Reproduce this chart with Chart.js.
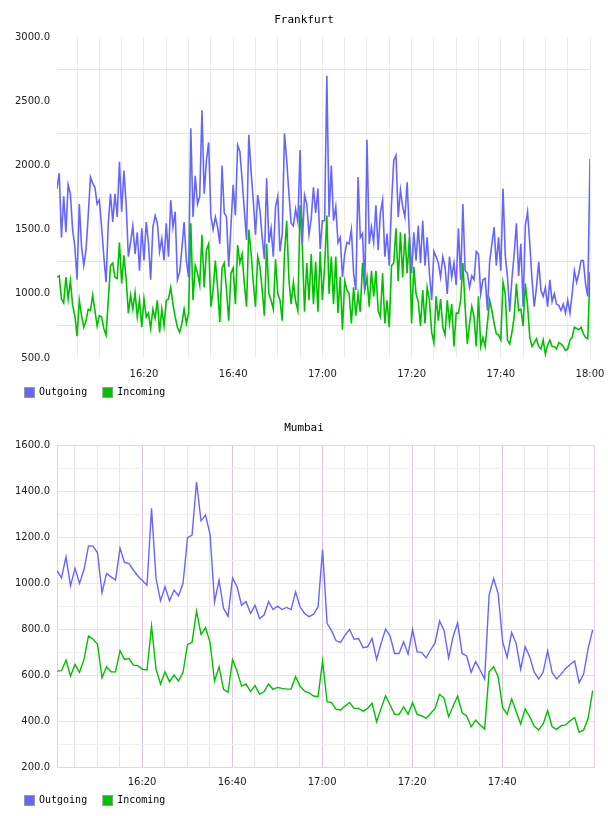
<!DOCTYPE html>
<html><head><meta charset="utf-8">
<script src="https://cdn.jsdelivr.net/npm/chart.js@4.4.0/dist/chart.umd.min.js"></script>
<style>
html,body{margin:0;padding:0;background:#fff;}
#wrap{position:relative;width:608px;height:816px;overflow:hidden;}
canvas{position:absolute;left:0;}
</style></head><body>
<div id="wrap">
<canvas id="fra" width="608" height="410" style="top:0"></canvas>
<canvas id="mum" width="608" height="406" style="top:410px"></canvas>
</div>
<script>
// ---- data (minutes after 16:00) ----
const seriesNames = ['Outgoing', 'Incoming'];
const fraTitle = 'Frankfurt';
const mumTitle = 'Mumbai';
const fraStartMin = 0.5, fraStepMin = 0.5;
const mumStartMin = 1.1, mumStepMin = 1;
const fraOut = [
1820,1940,1440,1760,1480,1850,1780,1500,1370,1110,1700,1370,1220,1340,1610,1910,1860,1830,1700,1730,1520,1290,1090,1550,1780,1560,1780,1600,2030,1640,1960,1700,1290,1400,1530,1310,1480,1180,1510,1260,1560,1400,1110,1520,1610,1550,1330,1430,1260,1550,1290,1730,1520,1640,1110,1170,1350,1560,1260,1130,
2290,1600,1920,1700,1760,2430,1780,2040,2180,1610,1500,1600,1520,1390,2000,1630,1600,1210,1530,1850,1610,2160,2110,1890,1650,1420,2240,1960,1730,1460,1770,1650,1440,1270,1900,1400,1510,1290,1680,1760,1330,1470,2250,2040,1780,1550,1530,1660,1560,2120,1390,1770,1700,1460,1590,1830,1630,1820,1350,1570,
1570,2700,1600,2000,1570,1680,1400,1440,1130,1310,1400,1390,1500,1160,1030,1910,1440,1470,1030,2200,1390,1520,1400,1690,1340,1630,1730,1290,1470,1220,1700,2040,2080,1600,1810,1680,1600,1870,1470,1160,1480,1260,1530,1240,1570,1220,1440,1160,950,1330,1290,1240,1130,1290,1210,1000,1290,1130,1240,1070,
1510,1110,1700,1180,1160,1050,1140,1110,1330,1310,1000,1110,1120,870,1250,1390,1520,1220,1440,1180,1820,1300,1130,860,1120,1310,1550,1140,1390,900,1530,1640,1390,1110,900,1050,1250,1030,980,1050,900,1110,940,1000,920,910,870,920,850,950,850,1000,1180,1090,1160,1260,1260,1080,980,2050];
const fraIn = [
1130,1140,960,930,1130,960,1100,910,830,670,950,830,740,790,880,870,990,870,750,830,820,730,680,950,1220,1240,1130,1120,1400,1080,1300,1120,850,990,880,1010,820,950,740,960,820,850,730,880,810,950,700,880,750,950,960,1050,920,820,740,700,770,880,770,850,
1550,950,1220,1160,1070,1460,1050,1340,1390,900,1030,1260,1050,780,1200,1240,1030,790,1160,1200,920,1380,1240,1310,1080,900,1500,1330,1090,900,1290,1210,1030,830,1390,1000,950,880,1270,1000,950,790,1310,1570,1110,920,1090,940,870,1690,1370,860,1240,950,1310,920,1250,860,1330,950,
1210,1610,1000,1290,920,1290,850,1130,720,1100,1030,1000,770,1050,830,1000,860,1240,1030,1130,900,1180,980,1180,870,820,1160,770,950,740,1220,1240,1510,1100,1480,1130,1470,1160,1440,770,1210,1000,940,750,1030,770,1050,950,700,620,980,790,960,740,680,950,770,920,590,850,
850,950,1240,900,610,770,900,820,590,980,590,660,590,770,950,870,770,690,680,640,1090,1000,640,610,700,820,1080,870,880,750,1080,910,660,590,620,650,590,570,640,530,600,640,590,590,570,620,610,590,560,570,640,660,740,730,720,740,690,660,650,1170];
const mumOut = [
1054,1023,1114,988,1064,999,1059,1162,1161,1132,958,1042,1027,1013,1152,1090,1085,1056,1030,1010,991,1325,1020,923,984,923,970,945,999,1198,1209,1440,1271,1296,1212,919,1013,890,856,1023,984,904,919,868,904,846,861,919,885,900,885,894,885,962,897,
868,854,865,897,1146,825,793,749,742,774,798,756,759,719,723,759,668,738,800,770,694,694,745,691,798,701,699,675,709,741,835,793,675,767,827,694,683,612,658,622,583,948,1020,955,745,677,785,738,625,723,680,614,583,612,706,610,583,604,629,646,661,567,604,716,796];
const mumIn = [
617,619,665,596,646,612,668,770,756,735,588,636,614,614,706,668,672,643,641,625,622,813,626,561,614,571,600,574,612,733,742,878,777,806,742,574,636,538,525,668,617,552,561,528,554,516,528,561,538,546,542,539,539,593,552,
530,523,509,506,661,484,480,451,448,465,481,455,455,443,455,477,397,455,510,470,429,429,462,430,480,429,423,412,433,455,516,499,419,465,509,436,422,375,404,383,364,614,636,593,459,429,496,441,387,452,419,378,361,387,445,375,364,380,383,401,415,351,361,412,532];
// tick values (minutes after 16:00) and labelled ones
const fraXTicks = [5,10,15,20,25,30,35,40,45,50,55,60,65,70,75,80,85,90,95,100,105,110,115,120];
const mumXTicks = [5,10,15,20,25,30,35,40,45,50,55,60,65,70,75,80,85,90,95,100,105,110,115];
const xLabels = {20:'16:20',40:'16:40',60:'17:00',80:'17:20',100:'17:40',120:'18:00'};
const fraY = {min:500, max:3000, step:250, labelEvery:500};
const mumY = {min:200, max:1600, step:100, labelEvery:200};

const colors = ['rgb(102,102,255)', 'rgb(0,192,0)'];

function toPoints(vals, start, step){ return vals.map((v,i)=>({x:start+step*i, y:v})); }

const flotLegend = {
  id:'flotLegend',
  afterDraw(chart, args, opts){
    const ctx = chart.ctx;
    const y = chart.chartArea.bottom + opts.offset;
    ctx.save();
    ctx.font = '10px "DejaVu Sans Mono"';
    ctx.textBaseline = 'middle'; ctx.textAlign = 'left';
    let x = 24;
    chart.data.datasets.forEach(ds=>{
      ctx.fillStyle = '#9a9a9a'; ctx.fillRect(x, Math.round(y-5.5), 11, 11);
      ctx.fillStyle = ds.borderColor; ctx.fillRect(x+1, Math.round(y-5.5)+1, 9, 9);
      ctx.fillStyle = '#000'; ctx.fillText(ds.label, x+15, y);
      x += 15 + ctx.measureText(ds.label).width + 15;
    });
    ctx.restore();
  }
};
const frame = {
  id:'frame',
  beforeDatasetsDraw(chart, args, opts){
    if(!opts.color) return;
    const a = chart.chartArea, ctx = chart.ctx;
    ctx.save(); ctx.strokeStyle = opts.color; ctx.lineWidth = 1;
    ctx.strokeRect(Math.round(a.left)+0.5, Math.round(a.top)+0.5, Math.round(a.right-a.left), Math.round(a.bottom-a.top));
    ctx.restore();
  }
};

function makeChart(id, title, outV, inV, start, step, xmin, xmax, xticks, yc, o){
  return new Chart(document.getElementById(id), {
    type:'line',
    data:{datasets:[
      {label:seriesNames[0], data:toPoints(outV,start,step), borderColor:colors[0], backgroundColor:colors[0], borderWidth:o.lw, pointRadius:0, tension:0, fill:false},
      {label:seriesNames[1], data:toPoints(inV,start,step), borderColor:colors[1], backgroundColor:colors[1], borderWidth:o.lw, pointRadius:0, tension:0, fill:false}
    ]},
    plugins:[flotLegend, frame],
    options:{
      responsive:false, animation:false, events:[],
      layout:{padding:{left:0,right:0,top:0,bottom:o.padBottom}},
      plugins:{
        legend:{display:false}, tooltip:{enabled:false},
        title:{display:true, text:title, color:'#000', font:{family:'DejaVu Sans Mono', size:11, weight:'normal', lineHeight:1.2}, padding:{top:o.titleTop, bottom:o.titleBottom}},
        flotLegend:{offset:o.legendOffset},
        frame:{color:o.frameColor}
      },
      scales:{
        x:{type:'linear', min:xmin, max:xmax,
           afterBuildTicks:s=>{ s.ticks = xticks.map(v=>({value:v})); },
           afterFit:s=>{ s.paddingRight = 0; s.paddingLeft = 0; },
           grid:{color:o.xGrid, drawTicks:false, lineWidth:1},
           border:{display:false},
           ticks:{padding:o.xPad, color:'#222', autoSkip:false, maxRotation:0, font:{family:'DejaVu Sans', size:10},
                  callback:v=> xLabels[v] || ''}},
        y:{min:yc.min, max:yc.max,
           afterFit:s=>{ s.width = 57; },
           grid:{color:o.yGrid, drawTicks:false, lineWidth:1},
           border:{display:false},
           ticks:{stepSize:yc.step, padding:7, color:'#222', font:{family:'DejaVu Sans', size:10},
                  callback:v=> (v % yc.labelEvery === 0) ? v.toFixed(1) : ''}},
        yR:{position:'right', display:true, afterFit:s=>{ s.width = o.rightW; },
            grid:{display:false, drawTicks:false}, border:{display:false}, ticks:{display:false}}
      }
    }
  });
}

makeChart('fra', fraTitle, fraOut, fraIn, fraStartMin, fraStepMin, 0.5, 120, fraXTicks, fraY, {
  lw:1.6, padBottom:20, titleTop:14, titleBottom:10, legendOffset:34, xPad:10, rightW:18, frameColor:null,
  xGrid:'#ebebeb',
  yGrid:c=> (c.tick && c.tick.value % 500 === 0) ? 'rgba(0,0,0,0)' : '#e4e4e4'
});
makeChart('mum', mumTitle, mumOut, mumIn, mumStartMin, mumStepMin, 1.1, 120.4, mumXTicks, mumY, {
  lw:1.4, padBottom:19, titleTop:12, titleBottom:10, legendOffset:33.5, xPad:9, rightW:14, frameColor:'#e6d3e8',
  xGrid:c=> (c.tick && c.tick.value % 20 === 0) ? '#dcc8e0' : '#e6e6e6',
  yGrid:c=> (c.tick && c.tick.value % 200 === 0) ? '#eedff0' : '#f1f1f1'
});
</script>
</body></html>
